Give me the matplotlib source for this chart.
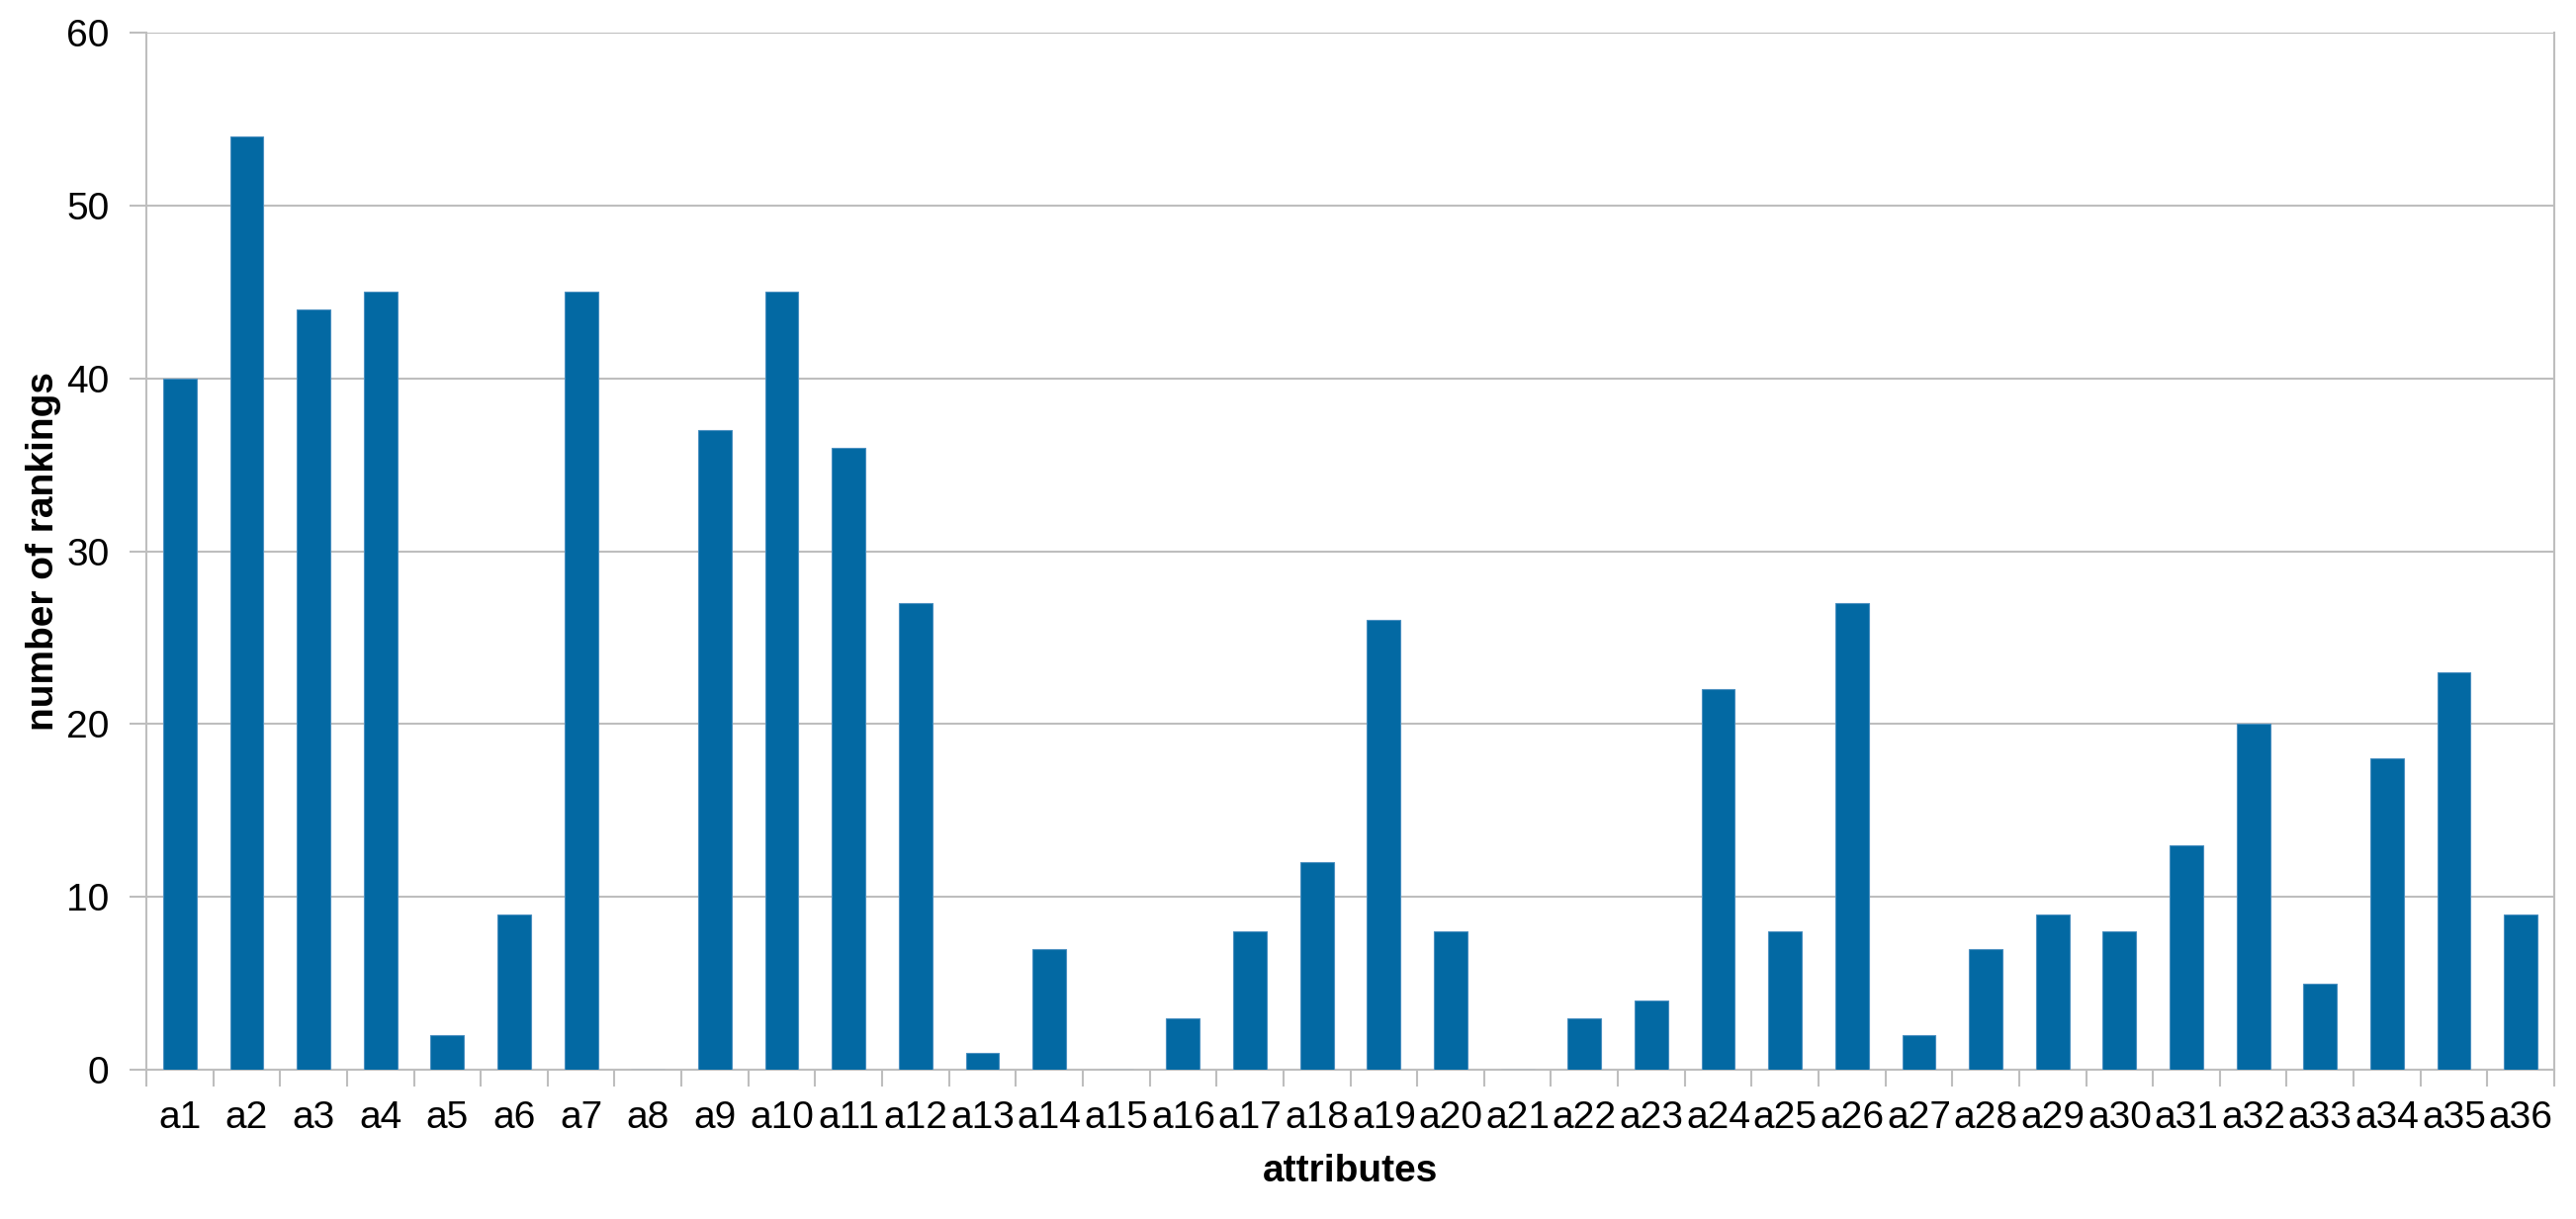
import matplotlib.pyplot as plt
import numpy as np

# ================== data ==================
attributes = [f"a{i}" for i in range(1, 37)]
rankings = [40, 54, 44, 45, 2, 9, 45, 0, 37, 45, 36, 27, 1, 7, 0, 3, 8, 12,
            26, 8, 0, 3, 4, 22, 8, 27, 2, 7, 9, 8, 13, 20, 5, 18, 23, 9]
y_ticks = [0, 10, 20, 30, 40, 50, 60]
# ==========================================

plt.rcParams['font.family'] = ['Liberation Sans', 'DejaVu Sans']

BAR_COLOR = '#0369A3'
GRID_COLOR = '#BEBEBE'
FS = 28

fig = plt.figure(figsize=(26.05, 12.33), dpi=100)
ax = fig.add_axes([148 / 2605, 1 - 1082 / 1233, (2583 - 148) / 2605, (1082 - 33) / 1233])

x = np.arange(len(attributes))
ax.bar(x, rankings, width=0.5, color=BAR_COLOR, edgecolor='#4A8FC0', linewidth=0.8, zorder=3)

ax.set_xlim(-0.5, len(attributes) - 0.5)
ax.set_ylim(0, 60)
ax.set_yticks(y_ticks)
ax.grid(axis='y', color=GRID_COLOR, linewidth=1.5, zorder=0)

# category labels at centers, tick marks at category boundaries
ax.set_xticks(x)
ax.set_xticklabels(attributes, fontsize=FS)
ax.set_xticks(np.arange(-0.5, len(attributes)), minor=True)
ax.tick_params(axis='x', which='major', length=0, pad=22.5)
ax.tick_params(axis='x', which='minor', length=12, width=1.5, color=GRID_COLOR)
ax.tick_params(axis='y', length=12, width=1.5, color=GRID_COLOR, labelsize=FS, pad=15)

for side in ['left', 'right', 'bottom']:
    ax.spines[side].set_color(GRID_COLOR)
    ax.spines[side].set_linewidth(1.5)
ax.spines['top'].set_visible(False)

ax.set_xlabel("attributes", fontsize=FS, fontweight='bold', labelpad=13)
ax.set_ylabel("number of rankings", fontsize=FS, fontweight='bold', labelpad=4)

plt.savefig("out.png", dpi=100)
plt.close()
